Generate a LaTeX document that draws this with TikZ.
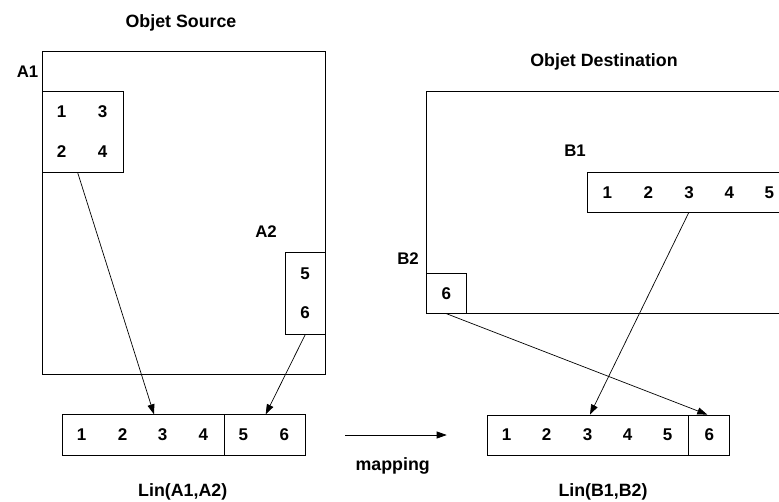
\documentclass[tikz,border=0pt]{standalone}
\usepackage{fontspec}
\setmainfont{Liberation Sans}
\usetikzlibrary{arrows.meta}
\begin{document}
\begin{tikzpicture}[x=1pt,y=-1pt,
  rbox/.style={draw, line width=0.8pt, inner sep=0pt},
  arr/.style={line width=0.7pt, -{Triangle[length=10pt,width=7pt]}},
  dig/.style={inner sep=0pt, font=\bfseries\fontsize{17}{20}\selectfont},
  lbl/.style={inner sep=0pt, anchor=base, font=\bfseries\fontsize{16.8}{20}\selectfont},
  ttl/.style={inner sep=0pt, anchor=base, font=\bfseries\fontsize{17.8}{21}\selectfont}]
\clip (0,0) rectangle (779,501);
\fill[white] (0,0) rectangle (779,501);
% titles and labels
\node[ttl] (tS) at (181,27.1) {Objet Source};
\node[ttl] (tD) at (604,66.4) {Objet Destination};
\node[lbl] (lA1) at (27.5,77.5) {A1};
\node[lbl] (lA2) at (266,237.8) {A2};
\node[lbl] (lB1) at (575,156.5) {B1};
\node[lbl] (lB2) at (408,264) {B2};
\node[ttl] (linA) at (182.7,496.3) {Lin(A1,A2)};
\node[ttl] (linB) at (603,496.3) {Lin(B1,B2)};
\node[ttl] (map) at (392.7,470.5) {mapping};
% source boxes
\node[rbox, minimum width=283.4pt, minimum height=323pt] (A1) at (184,212.5) {};
\node[rbox, minimum width=81pt, minimum height=81pt] (A1s) at (82.8,131.8) {};
\node[rbox, minimum width=40.7pt, minimum height=81.3pt] (A2) at (305.35,293.35) {};
% destination boxes
\node[rbox, minimum width=373.7pt, minimum height=222.3pt] (B) at (613.15,202.15) {};
\node[rbox, minimum width=207.3pt, minimum height=39.6pt] (B1) at (691.35,192.5) {};
\node[rbox, minimum width=40.4pt, minimum height=40pt] (B2) at (446.5,293.3) {};
% linear boxes
\node[rbox, minimum width=162pt, minimum height=40.6pt] (LAl) at (143.3,435) {};
\node[rbox, minimum width=81pt, minimum height=40.6pt] (LAr) at (264.8,435) {};
\node[rbox, minimum width=201.4pt, minimum height=40.3pt] (LBl) at (588,435.15) {};
\node[rbox, minimum width=40.6pt, minimum height=40.3pt] (LBr) at (709,435.15) {};
% digits
\node[dig] (a1n1) at (61.7,111.7) {1};
\node[dig] (a1n3) at (102.7,111.7) {3};
\node[dig] (a1n2) at (61.7,151.7) {2};
\node[dig] (a1n4) at (102.7,151.7) {4};
\node[dig] (a2n5) at (305,273.3) {5};
\node[dig] (a2n6) at (305,312.7) {6};
\foreach \d/\x in {1/81.7,2/122.7,3/162.7,4/203.3,5/243.3,6/284.3}
  \node[dig] (la\d) at (\x,434.5) {\d};
\foreach \d/\x in {1/607.3,2/648.3,3/689,4/729.3,5/769.3}
  \node[dig] (b1n\d) at (\x,192.7) {\d};
\node[dig] (b2n6) at (446.3,293.3) {6};
\foreach \d/\x in {1/506.7,2/546.7,3/587.7,4/627.7,5/667.7,6/709.3}
  \node[dig] (lb\d) at (\x,434.5) {\d};
% connectors
\draw[arr] ([xshift=-5.1pt]A1s.south) -- ([xshift=10.7pt]LAl.north);
\draw[arr] (A2.south) -- ([xshift=0.9pt]LAr.north);
\draw[arr] ([xshift=-2.65pt]B1.south) -- ([xshift=2pt]LBl.north);
\draw[arr] (B2.south) -- ([xshift=-1.7pt]LBr.north);
\coordinate (m1) at (345,435);
\coordinate (m2) at (446.7,435);
\draw[arr] (m1) -- (m2);
\end{tikzpicture}
\end{document}
